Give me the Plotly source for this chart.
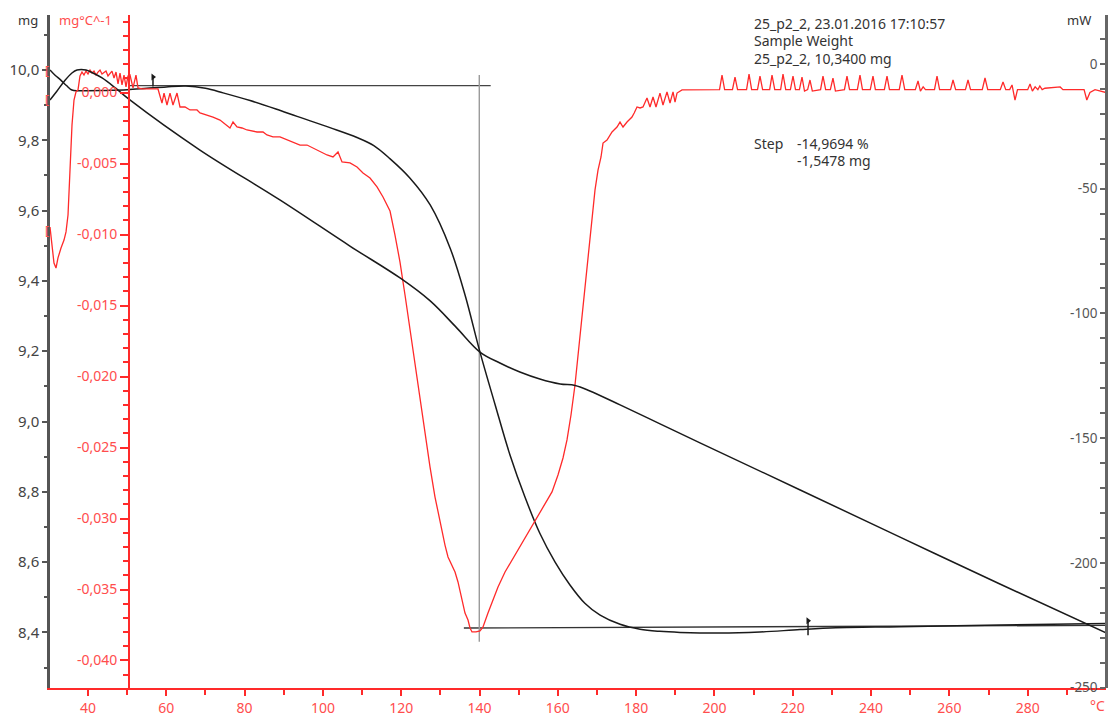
import plotly.graph_objects as go

# ---------------- data ----------------
# TG curve (mass, mg) vs temperature (°C)
tg_T = [30.30, 31.6, 33.0, 34.5, 35.9, 37.5, 40.0, 45.0, 50.0, 55.0, 60.0, 65.0, 70.0, 74.5,
        81.4, 88.0, 93.4, 101.8, 108.7, 113.0, 117.1, 122.2, 127.4, 132.5, 136.3, 140.1,
        144.0, 147.8, 151.6, 155.4, 159.3, 163.1, 166.9, 170.8, 175.9, 181.0, 186.0, 191.2,
        201.4, 211.6, 221.9, 231.0, 247.4, 272.9, 300.0]
tg_mg = [10.000, 9.985, 9.972, 9.956, 9.943, 9.941, 9.941, 9.942, 9.944, 9.948, 9.952, 9.9545,
         9.948, 9.935, 9.913, 9.889, 9.868, 9.836, 9.808, 9.785, 9.748, 9.693, 9.616, 9.493,
         9.360, 9.198, 9.047, 8.904, 8.785, 8.682, 8.600, 8.535, 8.483, 8.449, 8.423, 8.409,
         8.403, 8.400, 8.398, 8.401, 8.408, 8.413, 8.416, 8.421, 8.425]

# DSC curve (mW)
dsc_T = [30.30, 32.0, 34.0, 35.9, 37.2, 39.5, 41.0, 43.6, 47.0, 50.7, 68.6, 89.0, 106.9,
         119.7, 127.4, 134.0, 140.1, 145.2, 150.3, 155.4, 160.6, 164.4, 168.2, 175.9,
         186.1, 196.3, 221.9, 247.4, 272.9, 300.0]
dsc_mW = [-14.4, -11.0, -6.8, -3.6, -2.4, -2.4, -3.4, -5.6, -9.6, -14.4, -34.5, -54.5, -73.0,
          -85.8, -95.0, -105.5, -115.5, -119.9, -123.5, -126.3, -128.3, -128.9, -131.1,
          -136.7, -144.3, -151.9, -170.8, -189.7, -208.5, -228.1]

# DTG curve (mg/°C)
dtg_T = [30.30, 30.81, 31.32, 31.83, 32.34, 33.11, 33.88, 34.39, 34.90, 35.41, 35.92, 36.43,
         36.94, 37.45, 37.96, 38.47, 38.98, 39.49, 40.01, 40.52, 41.03, 41.54, 42.05, 42.56,
         43.07, 43.58, 44.09, 44.60, 45.11, 45.62, 46.13, 46.65, 47.16, 47.67, 48.18, 48.69,
         49.20, 49.71, 50.22, 50.73, 51.50, 52.26, 52.78, 53.80, 57.88, 58.90, 59.42, 60.18,
         60.95, 61.71, 62.74, 63.50, 64.78, 66.06, 67.84, 68.61, 70.40, 71.93, 73.72, 75.51,
         76.27, 77.04, 78.06, 79.34, 80.61, 83.17, 84.70, 85.72, 87.25, 89.04, 90.83, 92.36,
         94.15, 95.94, 97.47, 99.26, 101.05, 102.58, 103.86, 104.88, 106.92, 108.71, 110.24,
         112.03, 113.82, 115.35, 117.14, 118.41, 119.69, 120.97, 122.24, 123.52, 124.80,
         126.07, 127.35, 128.63, 129.91, 131.18, 131.95, 133.74, 134.50, 135.52, 136.29,
         137.06, 137.57, 138.08, 139.10, 140.12, 140.89, 142.16, 143.44, 144.72, 146.51,
         149.06, 151.61, 154.17, 156.72, 158.51, 160.04, 161.32, 162.34, 163.36, 164.38,
         165.40, 166.43, 167.45, 168.47, 169.49, 170.26, 171.03, 171.54, 172.56, 173.84,
         175.11, 175.88, 176.65, 177.67, 178.94, 179.50, 180.22, 180.99, 181.75, 182.77,
         183.54, 184.31, 185.07, 186.09, 186.86, 187.88, 188.65, 189.42, 189.93, 190.44,
         191.72,
         201.3, 201.93, 202.6, 204.6, 205.25, 205.9, 208.2, 208.83, 209.5, 211.0, 211.63,
         212.3, 214.1, 214.70, 215.4, 216.9, 217.51, 218.2, 219.4, 220.06, 220.7, 221.7,
         222.36, 223.0, 223.8, 224.40, 225.0, 227.1, 227.72, 228.4, 229.6, 230.27, 230.9,
         233.2, 233.85, 234.5, 236.5, 237.17, 237.8, 239.8, 240.49, 241.1, 243.4, 244.07,
         244.7, 247.2, 247.90, 248.6, 251.3, 251.99, 252.6, 253.3, 253.9, 256.2, 256.84,
         257.5, 260.3, 260.93, 261.6, 264.1, 264.76, 265.4, 268.4, 269.10, 269.8, 273.0,
         273.70, 274.4, 275.4, 276.0, 276.76, 277.4, 280.0, 280.6, 281.2, 281.9, 282.6,
         283.1, 283.7, 284.4, 288.3, 289.0, 294.4, 295.1, 295.9, 297.2, 300.0]
dtg_v = [-0.00948, -0.01081, -0.01201, -0.01236, -0.01165, -0.01095, -0.01039, -0.00982,
         -0.00863, -0.00546, -0.00229, -0.00053, 0.00004, 0.00018, 0.00116, 0.00144, 0.00123,
         0.00151, 0.00130, 0.00158, 0.00137, 0.00151, 0.00123, 0.00144, 0.00158, 0.00130,
         0.00144, 0.00151, 0.00116, 0.00137, 0.00151, 0.00102, 0.00144, 0.00060, 0.00137,
         0.00053, 0.00123, 0.00039, 0.00116, 0.00123, 0.00032, 0.00123, 0.00032, 0.00025,
         0.00025, -0.00074, -0.00004, -0.00088, -0.00004, -0.00088, -0.00004, -0.00102,
         -0.00102, -0.00123, -0.00123, -0.00144, -0.00158, -0.00173, -0.00194, -0.00229,
         -0.00250, -0.00208, -0.00243, -0.00250, -0.00264, -0.00278, -0.00278, -0.00299,
         -0.00313, -0.00313, -0.00335, -0.00349, -0.00370, -0.00370, -0.00391, -0.00419,
         -0.00440, -0.00454, -0.00419, -0.00489, -0.00496, -0.00525, -0.00567, -0.00602,
         -0.00665, -0.00736, -0.00835, -0.01004, -0.01194, -0.01426, -0.01673, -0.01919,
         -0.02165, -0.02412, -0.02637, -0.02849, -0.03025, -0.03187, -0.03271, -0.03377,
         -0.03447, -0.03574, -0.03666, -0.03715, -0.03771, -0.03799, -0.03799, -0.03792,
         -0.03764, -0.03666, -0.03574, -0.03482, -0.03377, -0.03257, -0.03137, -0.03025,
         -0.02905, -0.02813, -0.02694, -0.02574, -0.02447, -0.02271, -0.02060, -0.01778,
         -0.01496, -0.01215, -0.00933, -0.00687, -0.00546, -0.00454, -0.00356, -0.00335,
         -0.00278, -0.00243, -0.00208, -0.00243, -0.00208, -0.00173, -0.00144, -0.00102,
         -0.00109, -0.00102, -0.00039, -0.00102, -0.00032, -0.00102, -0.00004, -0.00088,
         0.00004, -0.00074, 0.00004, -0.00067, -0.00004, 0.00018,
         0.0002, 0.00123, 0.0002, 0.0002, 0.00109, 0.0002, 0.0002, 0.00130, 0.0002, 0.0002,
         0.00116, 0.0002, 0.0002, 0.00123, 0.0002, 0.0002, 0.00130, 0.0002, 0.0002, 0.00116,
         0.0002, 0.0002, 0.00109, 0.0001, 0.0002, 0.00088, 0.0001, 0.0002, 0.00116, 0.0002,
         0.0002, 0.00102, 0.0001, 0.0002, 0.00116, 0.0002, 0.0002, 0.00123, 0.0002, 0.0002,
         0.00116, 0.0002, 0.0002, 0.00116, 0.0002, 0.0002, 0.00123, 0.0002, 0.0002, 0.00081,
         0.0001, 0.0004, 0.0002, 0.0002, 0.00116, 0.0002, 0.0002, 0.00088, 0.0002, 0.0002,
         0.00088, 0.0002, 0.0002, 0.00102, 0.0002, 0.0002, 0.00074, 0.0002, 0.0002, 0.00053,
         -0.00053, 0.0002, 0.0002, 0.0006, 0.0001, 0.0004, 0.0002, 0.00046, 0.0002, 0.0003,
         0.00039, 0.0002, 0.0002, -0.00053, 0.0000, 0.0002, 0.0000]

# step evaluation construction lines (mg axis)
top_base_T = [50.7, 142.85]
top_base_mg = [9.9553, 9.9553]
bot_base_T = [136.0, 300.0]
bot_base_mg = [8.4125, 8.4200]
vline_T = [139.94, 139.94]
vline_mg = [9.986, 8.3736]
flag_T = [56.6, 223.9]
flag_low = [9.953, 8.392]
flag_high = [9.980, 8.433]

# axis ticks
x_ticks = [40, 60, 80, 100, 120, 140, 160, 180, 200, 220, 240, 260, 280]
x_minor = [50, 70, 90, 110, 130, 150, 170, 190, 210, 230, 250, 270, 290]
mg_ticks = [8.4, 8.6, 8.8, 9.0, 9.2, 9.4, 9.6, 9.8, 10.0]
mg_labels = ["8,4", "8,6", "8,8", "9,0", "9,2", "9,4", "9,6", "9,8", "10,0"]
mg_minor = [8.3, 8.5, 8.7, 8.9, 9.1, 9.3, 9.5, 9.7, 9.9, 10.1]
dtg_ticks = [-0.040, -0.035, -0.030, -0.025, -0.020, -0.015, -0.010, -0.005, 0.0]
dtg_labels = ["-0,040", "-0,035", "-0,030", "-0,025", "-0,020", "-0,015", "-0,010", "-0,005", "0,000"]
mw_ticks = [-250, -200, -150, -100, -50, 0]
mw_labels = ["-250", "-200", "-150", "-100", "-50", "0"]

RED = "#ff2a2a"
RED_TXT = "#ff4d4d"
BLACK = "#1a1a1a"
GRAY = "#555555"
FONT = "Noto Sans"

fig = go.Figure()

# construction lines
fig.add_trace(go.Scatter(x=top_base_T, y=top_base_mg, mode="lines",
                         line=dict(color="#444444", width=1.3), yaxis="y", hoverinfo="skip"))
fig.add_trace(go.Scatter(x=bot_base_T, y=bot_base_mg, mode="lines",
                         line=dict(color="#333333", width=1.3), yaxis="y", hoverinfo="skip"))
fig.add_trace(go.Scatter(x=vline_T, y=vline_mg, mode="lines",
                         line=dict(color="#9a9a9a", width=1.4), yaxis="y", hoverinfo="skip"))
for i in range(len(flag_T)):
    fig.add_trace(go.Scatter(x=[flag_T[i], flag_T[i]], y=[flag_low[i], flag_high[i]], mode="lines",
                             line=dict(color=BLACK, width=1.5), yaxis="y", hoverinfo="skip"))
fig.add_trace(go.Scatter(x=flag_T, y=flag_high, mode="markers",
                         marker=dict(symbol="triangle-right", size=6, color=BLACK),
                         yaxis="y", hoverinfo="skip"))

# curves
fig.add_trace(go.Scatter(x=dsc_T, y=dsc_mW, mode="lines", line=dict(color=BLACK, width=1.5),
                         yaxis="y3", line_shape="spline"))
fig.add_trace(go.Scatter(x=tg_T, y=tg_mg, mode="lines", line=dict(color=BLACK, width=1.5),
                         yaxis="y", line_shape="spline"))
fig.add_trace(go.Scatter(x=dtg_T, y=dtg_v, mode="lines", line=dict(color=RED, width=1.3),
                         yaxis="y2"))

fig.update_layout(
    width=1108, height=718,
    margin=dict(l=50, r=2, t=15, b=30, autoexpand=False),
    paper_bgcolor="white", plot_bgcolor="white",
    showlegend=False,
    font=dict(family=FONT, size=14, color="#333333"),
    xaxis=dict(range=[30.3, 300.0], domain=[0, 1], showgrid=False, zeroline=False, automargin=False,
               showline=True, linecolor=RED, linewidth=2, ticks="outside", ticklen=6,
               tickwidth=1.5, tickcolor=RED, tickvals=x_ticks,
               tickfont=dict(family=FONT, size=14, color=RED_TXT),
               minor=dict(tickvals=x_minor, ticks="outside", ticklen=5, tickcolor=RED, tickwidth=1.5)),
    yaxis=dict(range=[8.2418, 10.1565], showgrid=False, zeroline=False, showline=True, automargin=False,
               linecolor=GRAY, linewidth=2.5, ticks="outside", ticklen=5, tickwidth=1.5,
               tickcolor=GRAY, tickvals=mg_ticks, ticktext=mg_labels,
               tickfont=dict(family=FONT, size=15, color="#444444"),
               minor=dict(tickvals=mg_minor, ticks="outside", ticklen=3, tickcolor=GRAY, tickwidth=1.5)),
    yaxis2=dict(range=[-0.041937, 0.005458], overlaying="y", anchor="free", position=0.0748,
                side="left", showgrid=False, zeroline=False, showline=True, linecolor=RED,
                automargin=False,
                linewidth=2, ticks="outside", ticklen=8, tickwidth=1.5, tickcolor=RED,
                tickvals=dtg_ticks, ticktext=dtg_labels,
                tickfont=dict(family=FONT, size=14, color=RED_TXT),
                minor=dict(dtick=0.001, tick0=0, ticks="outside", ticklen=5, tickcolor=RED, tickwidth=1.5)),
    yaxis3=dict(range=[-250.2, 19.65], overlaying="y", anchor="free", position=1.0,
                side="left", showgrid=False, zeroline=False, showline=True, linecolor="#666666",
                automargin=False,
                linewidth=2.5, ticks="outside", ticklen=5, tickwidth=1.5, tickcolor="#666666",
                tickvals=mw_ticks, ticktext=mw_labels,
                tickfont=dict(family=FONT, size=13.5, color="#555555"),
                minor=dict(dtick=10, tick0=0, ticks="outside", ticklen=5, tickcolor="#666666", tickwidth=1.5)),
)

ann = [
    dict(text="mg", x=-0.021, y=0.9926, color="#333333", xanchor="center", size=13),
    dict(text="mg°C^-1", x=0.034, y=0.9926, color=RED_TXT, xanchor="center", size=13),
    dict(text="mW", x=0.9744, y=0.9926, color="#333333", xanchor="center", size=13),
    dict(text="°C", x=0.9915, y=-0.026, color=RED_TXT, xanchor="center", size=14),
]
for a in ann:
    fig.add_annotation(text=a["text"], xref="paper", yref="paper", x=a["x"], y=a["y"],
                       xanchor=a["xanchor"], yanchor="middle", showarrow=False,
                       font=dict(family=FONT, size=a["size"], color=a["color"]))

info_lines = ["25_p2_2, 23.01.2016 17:10:57", "Sample Weight", "25_p2_2, 10,3400 mg"]
info_y = [24, 41, 58]
for txt, yp in zip(info_lines, info_y):
    fig.add_annotation(text=txt, xref="paper", yref="paper", x=0.6648, y=(688 - yp) / 673,
                       xanchor="left", yanchor="middle", showarrow=False,
                       font=dict(family=FONT, size=14, color="#333333"))
step_texts = [("Step", 0.6648, 143), ("-14,9694 %", 0.7055, 143), ("-1,5478 mg", 0.7055, 160)]
for txt, xp, yp in step_texts:
    fig.add_annotation(text=txt, xref="paper", yref="paper", x=xp, y=(688 - yp) / 673,
                       xanchor="left", yanchor="middle", showarrow=False,
                       font=dict(family=FONT, size=14, color="#333333"))

# curve start markers at left edge
for yv, axis in [(10.0, "y"), (9.917, "y"), (-0.0097, "y2")]:
    fig.add_annotation(text="[", xref="paper", yref=axis, x=-0.003, y=yv, xanchor="center",
                       yanchor="middle", showarrow=False, font=dict(family=FONT, size=12, color=RED_TXT))

# remove the default page margin so the 1108x718 figure fills the window exactly
fig.write_html("out.html",
               config={"displayModeBar": False},
               post_script="document.body.style.margin='0';document.body.style.overflow='hidden';")
